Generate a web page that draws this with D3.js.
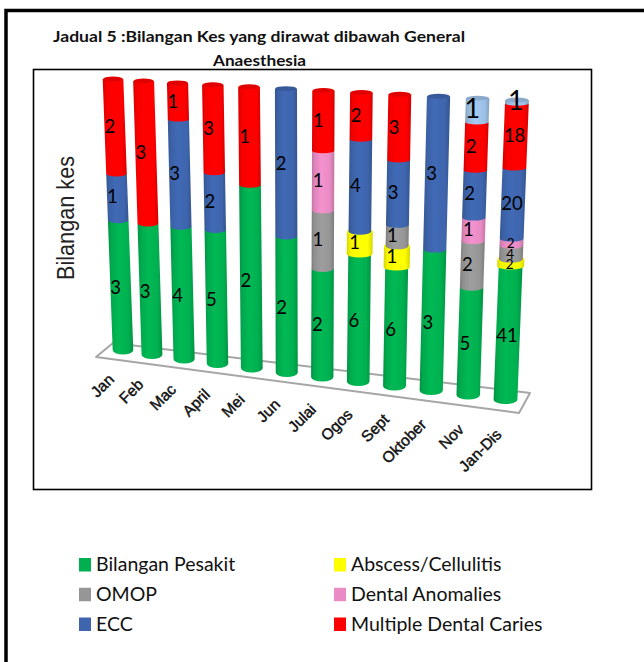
<!DOCTYPE html>
<html><head><meta charset="utf-8">
<script src="https://cdn.jsdelivr.net/npm/d3@7/dist/d3.min.js"></script>
<style>html,body{margin:0;padding:0;background:#fff}svg{display:block}</style></head>
<body><svg id="c" width="644" height="662"></svg>
<script>
const months = ["Jan","Feb","Mac","April","Mei","Jun","Julai","Ogos","Sept","Oktober","Nov","Jan-Dis"];
const seriesNames = ["Bilangan Pesakit","Abscess/Cellulitis","OMOP","Dental Anomalies","ECC","Multiple Dental Caries","Lain"];
const bilanganPesakit = [3,3,4,5,2,2,2,6,6,3,5,41];
const abscess =         [0,0,0,0,0,0,0,1,1,0,0,2];
const omop =            [0,0,0,0,0,0,1,0,1,0,2,4];
const anomalies =       [0,0,0,0,0,0,1,0,0,0,1,2];
const ecc =             [1,0,3,2,0,2,0,4,3,3,2,20];
const caries =          [2,3,1,3,1,0,1,2,3,0,2,18];
const lain =            [0,0,0,0,0,0,0,0,0,0,1,1];
const colours = ["#00B050","#FFFF00","#969696","#E98BC4","#3E65AD","#FF0000","#9DC0E6"];
const title = ["Jadual 5 :Bilangan Kes yang dirawat dibawah General","Anaesthesia"];

const svg = d3.select("#c");
const sans = "Liberation Sans, Arial, sans-serif";
const body = "Lato, 'Noto Sans', sans-serif";

// page and chart frames
svg.append("rect").attr("x",6).attr("y",10.5).attr("width",700).attr("height",700)
  .attr("fill","#fff").attr("stroke","#000").attr("stroke-width",3.5);
svg.append("rect").attr("x",33.5).attr("y",69.5).attr("width",558).attr("height",420)
  .attr("fill","#fff").attr("stroke","#000").attr("stroke-width",1.6);

// title
svg.selectAll("text.title").data(title).join("text").attr("class","title")
  .attr("x",(d,i)=>i?259.5:259).attr("y",(d,i)=>i?66:42)
  .attr("text-anchor","middle").attr("font-family",body).attr("font-weight",700)
  .attr("font-size",15.5).attr("textLength",(d,i)=>i?93:412).attr("lengthAdjust","spacingAndGlyphs")
  .attr("fill","#111").text(d=>d);

// pseudo 3D layout: scales for the receding floor
const n = months.length;
const topX = d3.scalePow().exponent(1.076).domain([0,n-1]).range([113,517]);
const botX = d3.scalePow().exponent(1.076).domain([0,n-1]).range([123,505.5]);
const topY = d3.scaleLinear().domain([0,n-1]).range([79,100]);
const botY = d3.scaleLinear().domain([0,n-1]).range([350,399.5]);
const halfW = d3.scaleLinear().domain([0,n-1]).range([10.3,11.9]);
const share = d3.scalePow().exponent(1.06).domain([0,1]).range([0,1]);
const ryAt = d3.scaleLinear().domain([0,1]).range([4.5,2]);
const catDx = d3.scaleLinear().domain([0,n-1]).range([-8,-3]);
const catDy = d3.scaleLinear().domain([0,n-1]).range([30.5,36]);

const px = (i,f)=>{const t=share(f);return botX(i)+(topX(i)-botX(i))*t;};
const py = (i,f)=>{const t=share(f);return botY(i)+(topY(i)-botY(i))*t;};

// floor
const floor = d3.line();
svg.append("path").attr("d",floor([[96,357],[113,343],[530,393],[519,413]])+"Z")
  .attr("fill","#fff").attr("stroke","#a6a6a6").attr("stroke-width",2).attr("stroke-linejoin","round");

// gradients
const defs = svg.append("defs");
colours.forEach((c,k)=>{
  const g = defs.append("linearGradient").attr("id","g"+k);
  const col = d3.color(c);
  [[0,col.darker(.5)],[.14,col.darker(.12)],[.42,col.brighter(.14)],[.8,col],[1,col.darker(.5)]].forEach(([o,v])=>
    g.append("stop").attr("offset",o).attr("stop-color",v));
});

// stack
const rows = months.map((m,i)=>[bilanganPesakit,abscess,omop,anomalies,ecc,caries,lain].reduce((o,a,k)=>(o[k]=a[i],o),{}));
const keys = d3.range(seriesNames.length);
const stacked = d3.stack().keys(keys).offset(d3.stackOffsetExpand)(rows);

const segPath = (i,a,b,extra)=>{
  const w = halfW(i)+extra;
  const x0=px(i,a),y0=py(i,a),x1=px(i,b),y1=py(i,b),r=ryAt(a);
  return `M${x1-w},${y1}L${x1+w},${y1}L${x0+w},${y0}A${w},${r} 0 0 1 ${x0-w},${y0}Z`;
};

const bars = svg.selectAll("g.bar").data(months).join("g").attr("class","bar");
bars.each(function(m,i){
  const g = d3.select(this);
  let topIdx = 0;
  keys.forEach(k=>{
    const [a,b] = stacked[k][i];
    if (b-a<=0) return;
    topIdx = k;
    g.append("path").attr("d",segPath(i,a,b,k===1?1.6:0)).attr("fill",`url(#g${k})`);
    if (k===1) g.append("ellipse").attr("cx",px(i,b)).attr("cy",py(i,b)).attr("rx",halfW(i)+1.6).attr("ry",ryAt(b)+.5)
      .attr("fill",d3.color(colours[1]).darker(.1));
  });
  g.append("ellipse").attr("cx",px(i,1)).attr("cy",py(i,1)).attr("rx",halfW(i)-.5).attr("ry",2.4)
    .attr("fill",d3.color(colours[topIdx]).darker(.35));
});

// value labels
bars.each(function(m,i){
  const g = d3.select(this);
  keys.forEach(k=>{
    const [a,b] = stacked[k][i], v = rows[i][k];
    if (!v) return;
    const mid=(a+b)/2;
    const big = k===6;
    const tight = i===n-1 && k>=1 && k<=3;
    g.append("text").attr("x",px(i,mid)-(i===n-1?1:5)).attr("y",py(i,mid)+(big?8:6.5))
      .attr("text-anchor","middle").attr("font-family",body)
      .attr("font-size",big?27:(tight?13.5:18.5)).attr("fill","#000").text(v);
  });
});

// category labels
svg.selectAll("text.cat").data(months).join("text").attr("class","cat")
  .attr("transform",(d,i)=>`translate(${botX(i)+catDx(i)},${botY(i)+catDy(i)}) rotate(-45)`)
  .attr("text-anchor","end").attr("font-family",sans).attr("font-size",15.5)
  .attr("fill","#111").attr("stroke","#111").attr("stroke-width",.45).text(d=>d);

// axis title
svg.append("text").attr("transform","translate(74,218) rotate(-90)")
  .attr("text-anchor","middle").attr("font-family",sans).attr("font-size",23)
  .attr("textLength",124).attr("lengthAdjust","spacingAndGlyphs").attr("fill","#222")
  .text("Bilangan kes");

// legend
const legendOrder = [0,2,4,1,3,5];
const legX = d3.scalePoint().domain([0,1]).range([79,334]);
const legY = d3.scalePoint().domain([0,1,2]).range([565,624.5]);
const leg = svg.selectAll("g.leg").data(legendOrder).join("g").attr("class","leg")
  .attr("transform",(k,i)=>`translate(${legX(Math.floor(i/3))},${legY(i%3)})`);
leg.append("rect").attr("x",0).attr("y",-7).attr("width",12).attr("height",13.5).attr("fill",k=>colours[k]);
leg.append("text").attr("x",17).attr("y",6).attr("font-family",body).attr("font-size",19.5)
  .attr("fill","#111").text(k=>seriesNames[k]);
</script></body></html>
